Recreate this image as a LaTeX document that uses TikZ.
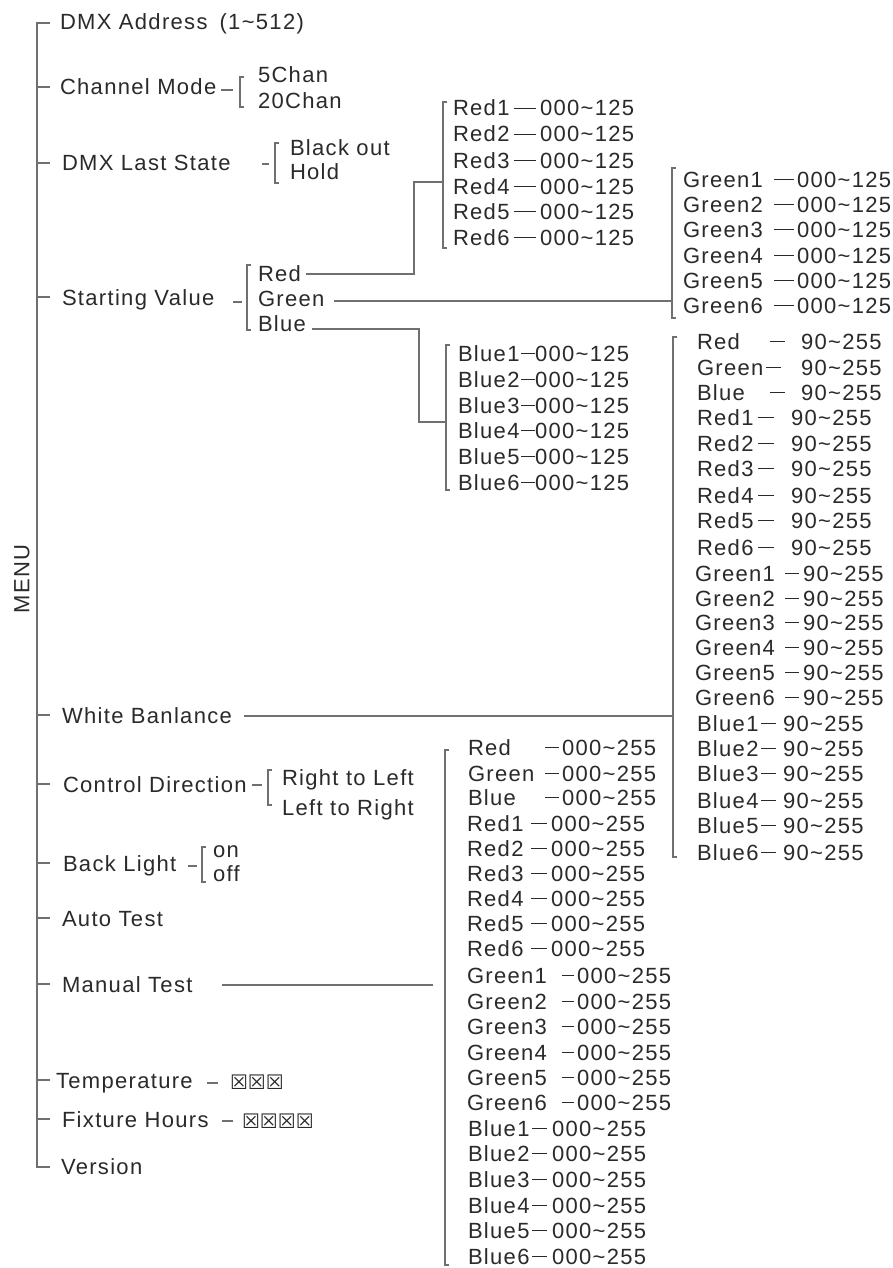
\documentclass[tikz,border=0pt]{standalone}
\usepackage{fontspec}
\setmainfont{Liberation Sans}[LetterSpace=6]
\newfontfamily\boxfont{DejaVu Sans}
\usetikzlibrary{calc}
\definecolor{txtc}{HTML}{2A2A2A}
\definecolor{lnc}{HTML}{707070}
\newcommand{\tildech}{\textasciitilde}
\newlength{\dashw}
\setlength{\dashw}{20pt}
\newcommand{\dsh}{\textcolor{txtc}{\rule[6.6pt]{\dashw}{1.4pt}}}
\newcommand{\itm}[7]{\node[lbl] (#1) at (#2,#3+8) {\makebox[\dimexpr#5pt-#2pt\relax][l]{#4}\makebox[\dimexpr#6pt-#5pt\relax][l]{\dsh}#7};}
\newcommand{\brk}[4]{\coordinate (#1t) at (#2,#3);\coordinate (#1b) at (#2,#4);\draw[ln] ($(#1t)+(4,0)$) -- (#1t) -- (#1b) -- ($(#1b)+(4,0)$);}
\begin{document}
\begin{tikzpicture}[x=1pt,y=-1pt,
  lbl/.style={inner sep=0pt,outer sep=0pt,text=txtc,font=\fontsize{22}{22}\selectfont,anchor=base west},
  ln/.style={draw=lnc,line width=1.5pt,line join=miter}]
\fill[white] (0,0) rectangle (893,1268);
\path[use as bounding box] (0,0) rectangle (893,1268);

% MENU and spine
\node[lbl,anchor=center,rotate=90] (menu) at (22,579) {MENU};
\coordinate (spT) at (37,23);
\coordinate (spB) at (37,1167);
\draw[ln] ($(spT)+(13,0)$) -- (spT) -- (spB) -- ($(spB)+(13,0)$);
\foreach \yy in {87,163,297,715,784,863,918,984,1080,1119}
  \draw[ln] (37,\yy) -- (50,\yy);

% first level
\node[lbl] (dmx) at (60,30) {DMX Address\hspace{12pt}(1\tildech 512)};
\node[lbl] (cm) at (60,95) {Channel Mode};
\node[lbl] (dls) at (62,171) {DMX Last State};
\node[lbl] (sv) at (62,305) {Starting Value};
\node[lbl] (wb) at (62,723) {White Banlance};
\node[lbl] (cd) at (63,792) {Control Direction};
\node[lbl] (bl) at (63,871) {Back Light};
\node[lbl] (at) at (62,926) {Auto Test};
\node[lbl] (mt) at (62,992) {Manual Test};
\node[lbl] (tp) at (56,1088) {Temperature};
\node[lbl] (fh) at (62,1127) {Fixture Hours};
\node[lbl] (ver) at (61,1174) {Version};

% channel mode
\draw[ln] (221,90) -- (233,90);
\brk{cmk}{240}{77}{107}
\node[lbl] (c5) at (258,83) {5Chan};
\node[lbl] (c20) at (258,109) {20Chan};

% DMX last state
\draw[ln] (262,164) -- (269,164);
\brk{dlk}{275}{143}{183}
\node[lbl] (bo) at (290,156) {Black out};
\node[lbl] (hold) at (290,180) {Hold};

% starting value
\draw[ln] (233,302) -- (242,302);
\brk{svk}{247}{265}{330}
\node[lbl] (sr) at (258,281) {Red};
\node[lbl] (sg) at (258,306) {Green};
\node[lbl] (sb) at (258,331) {Blue};

% control direction
\draw[ln] (252,785) -- (262,785);
\brk{cdk}{268}{770}{805}
\node[lbl] (rl) at (282,785) {Right to Left};
\node[lbl] (lr) at (282,815) {Left to Right};

% back light
\draw[ln] (188,866) -- (197,866);
\brk{blk}{202}{847}{882}
\node[lbl] (on) at (213,857) {on};
\node[lbl] (off) at (213,881) {off};

% temperature / hours
\draw[ln] (207,1083) -- (218,1083);
\node[lbl] (tpv) at (230,1089) {\boxfont\fontsize{20}{20}\selectfont ☒☒☒};
\draw[ln] (222,1121) -- (233,1121);
\node[lbl] (fhv) at (242,1128) {\boxfont\fontsize{20}{20}\selectfont ☒☒☒☒};

% Red 000~125
\brk{rk}{443}{102}{248}
\coordinate (rj) at (443,182);
\draw[ln] ($(sr.east)+(5,1)$) -| ($(rj)+(-29,0)$) -- (rj);
\setlength{\dashw}{22pt}
\itm{r1}{453}{108}{Red1}{514}{540}{000\tildech125}
\itm{r2}{453}{134}{Red2}{514}{540}{000\tildech125}
\itm{r3}{453}{160}{Red3}{514}{540}{000\tildech125}
\itm{r4}{453}{186}{Red4}{514}{540}{000\tildech125}
\itm{r5}{453}{211}{Red5}{514}{540}{000\tildech125}
\itm{r6}{453}{237}{Red6}{514}{540}{000\tildech125}

% Green 000~125
\brk{gk}{672}{168}{318}
\coordinate (gj) at (672,301);
\coordinate (gs) at ($(sg.east)+(10,0)$);
\draw[ln] (gs |- gj) -- (gj);
\setlength{\dashw}{20pt}
\itm{g1}{683}{179}{Green1}{774}{797}{000\tildech125}
\itm{g2}{683}{204}{Green2}{774}{797}{000\tildech125}
\itm{g3}{683}{229}{Green3}{774}{797}{000\tildech125}
\itm{g4}{683}{255}{Green4}{774}{797}{000\tildech125}
\itm{g5}{683}{280}{Green5}{774}{797}{000\tildech125}
\itm{g6}{683}{305}{Green6}{774}{797}{000\tildech125}

% Blue 000~125
\brk{bk}{446}{345}{490}
\coordinate (bj) at (446,422);
\draw[ln] ($(sb.east)+(6,6)$) -| ($(bj)+(-27,0)$) -- (bj);
\setlength{\dashw}{14pt}
\itm{b1}{458}{353}{Blue1}{521}{535}{000\tildech125}
\itm{b2}{458}{379}{Blue2}{521}{535}{000\tildech125}
\itm{b3}{458}{405}{Blue3}{521}{535}{000\tildech125}
\itm{b4}{458}{430}{Blue4}{521}{535}{000\tildech125}
\itm{b5}{458}{456}{Blue5}{521}{535}{000\tildech125}
\itm{b6}{458}{482}{Blue6}{521}{535}{000\tildech125}

% White balance
\brk{wk}{673}{337}{857}
\coordinate (wj) at (673,716);
\coordinate (ws) at ($(wb.east)+(12,0)$);
\draw[ln] (ws |- wj) -- (wj);
\setlength{\dashw}{15pt}
\itm{w1}{697}{341}{Red}{770}{801}{90\tildech255}
\itm{w2}{697}{367}{Green}{766}{801}{90\tildech255}
\itm{w3}{697}{392}{Blue}{770}{801}{90\tildech255}
\setlength{\dashw}{16pt}
\itm{w4}{697}{417}{Red1}{758}{791}{90\tildech255}
\itm{w5}{697}{443}{Red2}{758}{791}{90\tildech255}
\itm{w6}{697}{468}{Red3}{758}{791}{90\tildech255}
\itm{w7}{697}{495}{Red4}{758}{791}{90\tildech255}
\itm{w8}{697}{520}{Red5}{758}{791}{90\tildech255}
\itm{w9}{697}{547}{Red6}{758}{791}{90\tildech255}
\setlength{\dashw}{14pt}
\itm{w10}{695}{573}{Green1}{785}{803}{90\tildech255}
\itm{w11}{695}{598}{Green2}{785}{803}{90\tildech255}
\itm{w12}{695}{622}{Green3}{785}{803}{90\tildech255}
\itm{w13}{695}{647}{Green4}{785}{803}{90\tildech255}
\itm{w14}{695}{672}{Green5}{785}{803}{90\tildech255}
\itm{w15}{695}{697}{Green6}{785}{803}{90\tildech255}
\setlength{\dashw}{15pt}
\itm{w16}{697}{723}{Blue1}{761}{783}{90\tildech255}
\itm{w17}{697}{748}{Blue2}{761}{783}{90\tildech255}
\itm{w18}{697}{773}{Blue3}{761}{783}{90\tildech255}
\itm{w19}{697}{800}{Blue4}{761}{783}{90\tildech255}
\itm{w20}{697}{825}{Blue5}{761}{783}{90\tildech255}
\itm{w21}{697}{852}{Blue6}{761}{783}{90\tildech255}

% Manual test
\brk{mk}{445}{750}{1265}
\coordinate (mj) at (433,985);
\coordinate (ms) at ($(mt.east)+(30,0)$);
\draw[ln] (ms |- mj) -- (mj);
\setlength{\dashw}{14pt}
\itm{m1}{468}{747}{Red}{545}{562}{000\tildech255}
\itm{m2}{468}{773}{Green}{545}{562}{000\tildech255}
\itm{m3}{468}{797}{Blue}{545}{562}{000\tildech255}
\setlength{\dashw}{16pt}
\itm{m4}{467}{823}{Red1}{531}{551}{000\tildech255}
\itm{m5}{467}{848}{Red2}{531}{551}{000\tildech255}
\itm{m6}{467}{873}{Red3}{531}{551}{000\tildech255}
\itm{m7}{467}{898}{Red4}{531}{551}{000\tildech255}
\itm{m8}{467}{923}{Red5}{531}{551}{000\tildech255}
\itm{m9}{467}{948}{Red6}{531}{551}{000\tildech255}
\setlength{\dashw}{12pt}
\itm{m10}{467}{975}{Green1}{562}{577}{000\tildech255}
\itm{m11}{467}{1001}{Green2}{562}{577}{000\tildech255}
\itm{m12}{467}{1026}{Green3}{562}{577}{000\tildech255}
\itm{m13}{467}{1052}{Green4}{562}{577}{000\tildech255}
\itm{m14}{467}{1077}{Green5}{562}{577}{000\tildech255}
\itm{m15}{467}{1102}{Green6}{562}{577}{000\tildech255}
\setlength{\dashw}{15pt}
\itm{m16}{468}{1128}{Blue1}{532}{552}{000\tildech255}
\itm{m17}{468}{1153}{Blue2}{532}{552}{000\tildech255}
\itm{m18}{468}{1179}{Blue3}{532}{552}{000\tildech255}
\itm{m19}{468}{1205}{Blue4}{532}{552}{000\tildech255}
\itm{m20}{468}{1230}{Blue5}{532}{552}{000\tildech255}
\itm{m21}{468}{1256}{Blue6}{532}{552}{000\tildech255}
\end{tikzpicture}
\end{document}
